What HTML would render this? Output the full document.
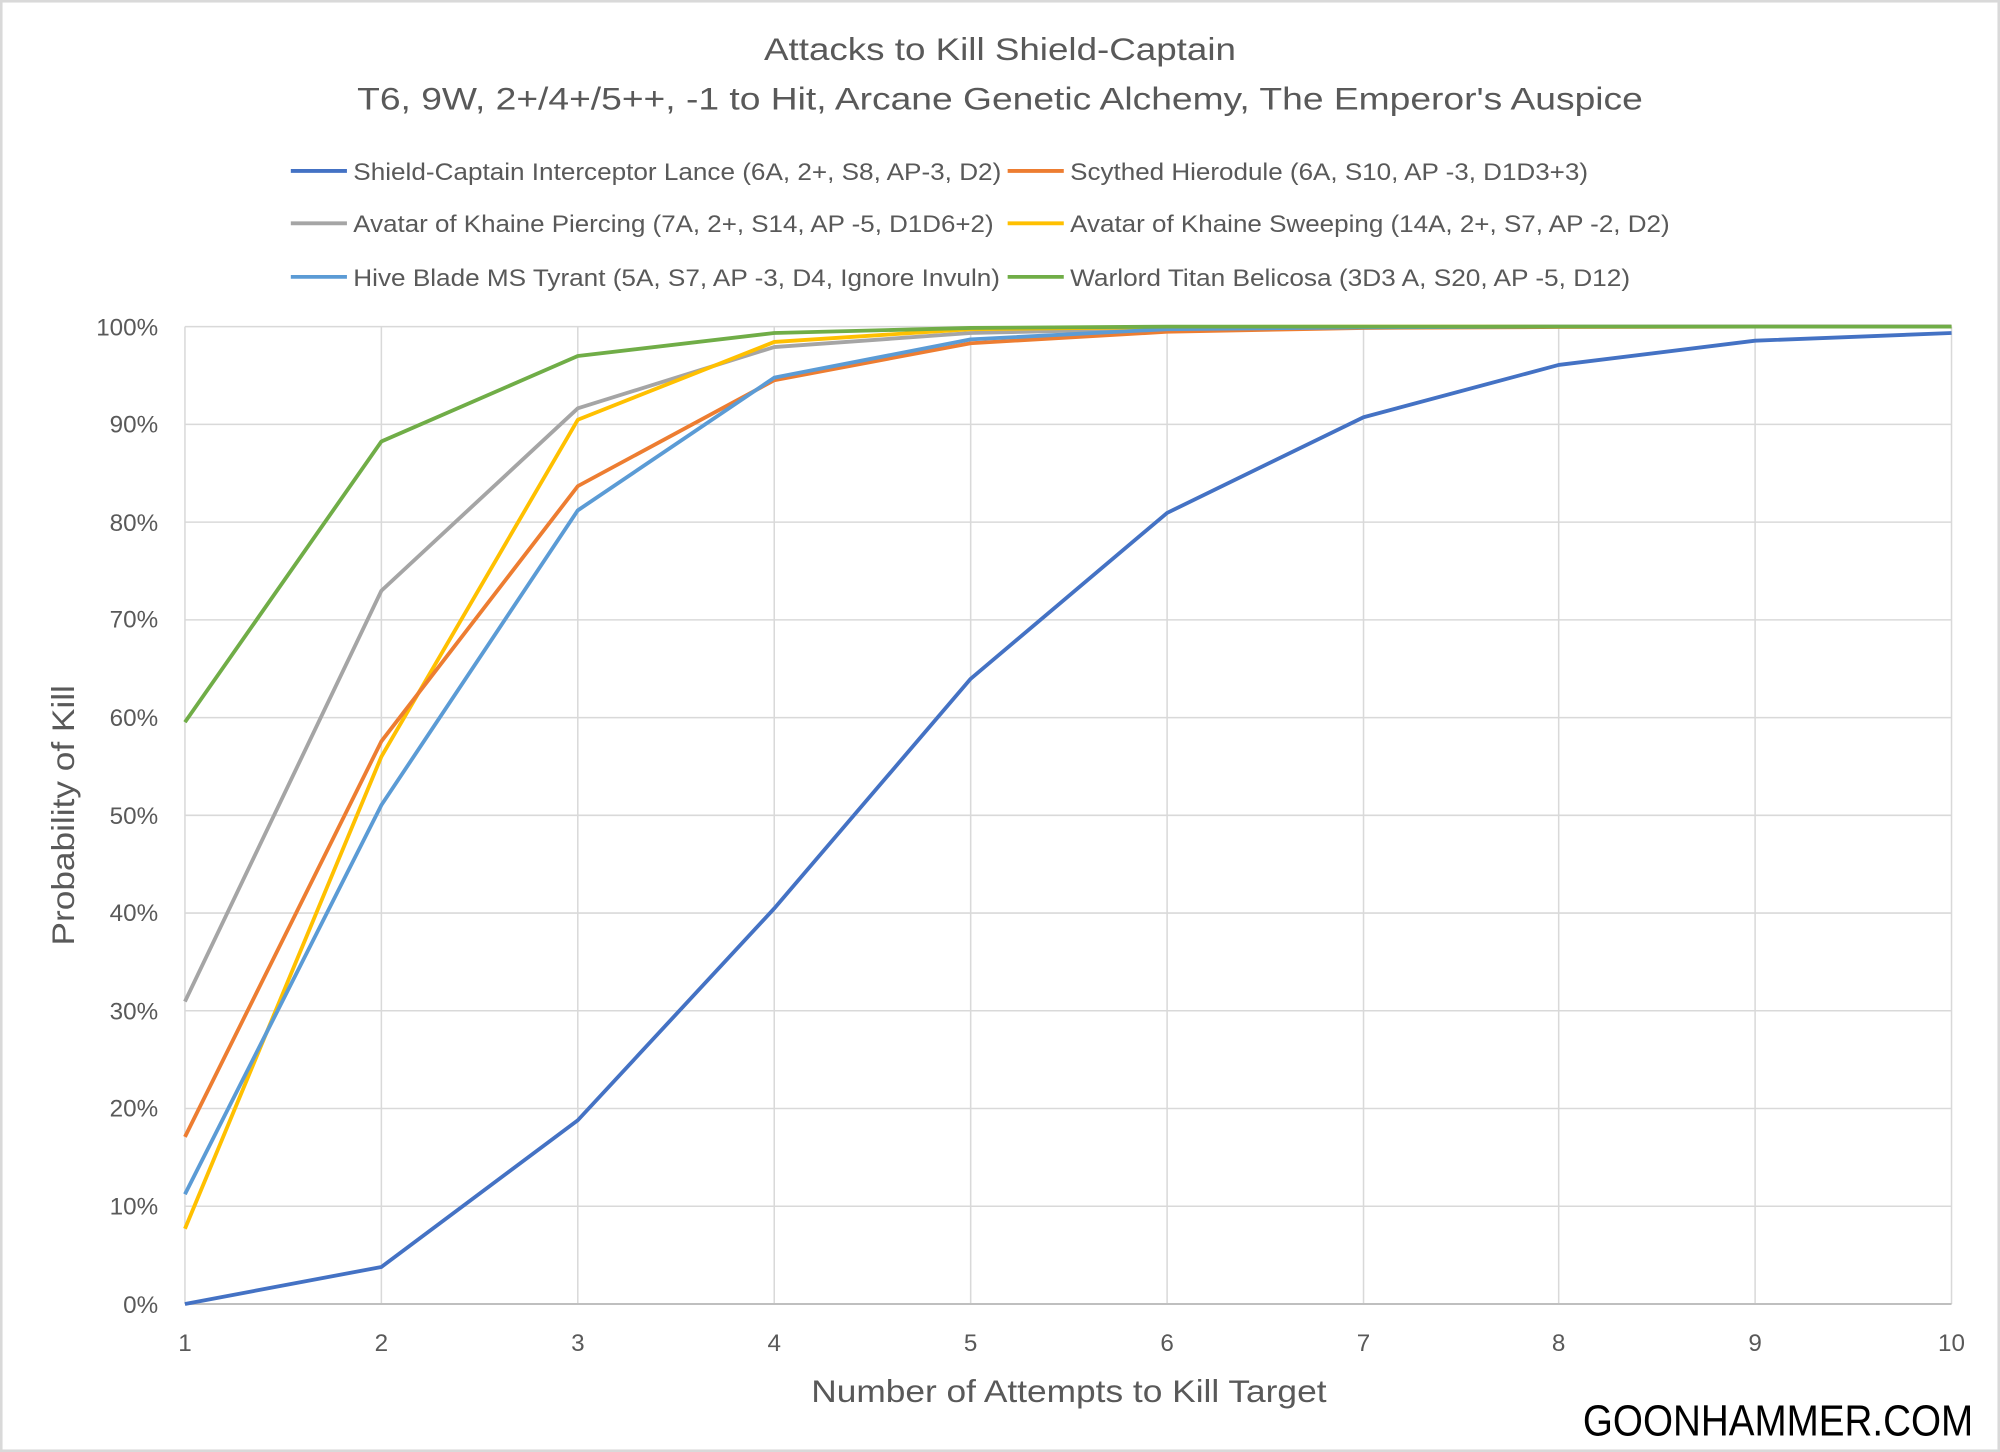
<!DOCTYPE html>
<html><head><meta charset="utf-8"><style>
html,body{margin:0;padding:0;background:#fff;}
svg{display:block;}
text{font-family:"Liberation Sans",sans-serif;fill:#595959;}
</style></head><body>
<svg width="2000" height="1452" viewBox="0 0 1568 1138" preserveAspectRatio="none" xmlns="http://www.w3.org/2000/svg">
<rect x="0" y="0" width="1568" height="1138" fill="#fff"/>
<rect x="1" y="1" width="1566" height="1136" fill="none" stroke="#d9d9d9" stroke-width="2"/>
<text x="784" y="47" font-size="25" text-anchor="middle" textLength="370" lengthAdjust="spacingAndGlyphs">Attacks to Kill Shield-Captain</text>
<text x="784" y="86" font-size="25" text-anchor="middle" textLength="1008" lengthAdjust="spacingAndGlyphs">T6, 9W, 2+/4+/5++, -1 to Hit, Arcane Genetic Alchemy, The Emperor's Auspice</text>
<g stroke-width="3">
<line x1="228" y1="134" x2="272" y2="134" stroke="#4472c4"/>
<line x1="790" y1="134" x2="834" y2="134" stroke="#ed7d31"/>
<line x1="228" y1="175" x2="272" y2="175" stroke="#a5a5a5"/>
<line x1="790" y1="175" x2="834" y2="175" stroke="#ffc000"/>
<line x1="228" y1="217" x2="272" y2="217" stroke="#5b9bd5"/>
<line x1="790" y1="217" x2="834" y2="217" stroke="#70ad47"/>
</g>
<g font-size="19">
<text x="277" y="141" textLength="508" lengthAdjust="spacingAndGlyphs">Shield-Captain Interceptor Lance (6A, 2+, S8, AP-3, D2)</text>
<text x="839" y="141" textLength="406" lengthAdjust="spacingAndGlyphs">Scythed Hierodule (6A, S10, AP -3, D1D3+3)</text>
<text x="277" y="182" textLength="502" lengthAdjust="spacingAndGlyphs">Avatar of Khaine Piercing (7A, 2+, S14, AP -5, D1D6+2)</text>
<text x="839" y="182" textLength="470" lengthAdjust="spacingAndGlyphs">Avatar of Khaine Sweeping (14A, 2+, S7, AP -2, D2)</text>
<text x="277" y="224" textLength="507" lengthAdjust="spacingAndGlyphs">Hive Blade MS Tyrant (5A, S7, AP -3, D4, Ignore Invuln)</text>
<text x="839" y="224" textLength="439" lengthAdjust="spacingAndGlyphs">Warlord Titan Belicosa (3D3 A, S20, AP -5, D12)</text>
</g>
<g stroke="#d9d9d9" stroke-width="1.2">
<line x1="145" x2="1530" y1="256" y2="256"/><line x1="145" x2="1530" y1="332.6" y2="332.6"/>
<line x1="145" x2="1530" y1="409.2" y2="409.2"/><line x1="145" x2="1530" y1="485.8" y2="485.8"/>
<line x1="145" x2="1530" y1="562.4" y2="562.4"/><line x1="145" x2="1530" y1="639" y2="639"/>
<line x1="145" x2="1530" y1="715.6" y2="715.6"/><line x1="145" x2="1530" y1="792.2" y2="792.2"/>
<line x1="145" x2="1530" y1="868.8" y2="868.8"/><line x1="145" x2="1530" y1="945.4" y2="945.4"/>
<line x1="145" x2="145" y1="256" y2="1022"/><line x1="299" x2="299" y1="256" y2="1022"/>
<line x1="453" x2="453" y1="256" y2="1022"/><line x1="607" x2="607" y1="256" y2="1022"/>
<line x1="761" x2="761" y1="256" y2="1022"/><line x1="915" x2="915" y1="256" y2="1022"/>
<line x1="1069" x2="1069" y1="256" y2="1022"/><line x1="1222" x2="1222" y1="256" y2="1022"/>
<line x1="1376" x2="1376" y1="256" y2="1022"/><line x1="1530" x2="1530" y1="256" y2="1022"/>
</g>
<line x1="145" x2="1530" y1="1022" y2="1022" stroke="#bfbfbf" stroke-width="1.5"/>
<g font-size="19" text-anchor="end">
<text x="124" y="263">100%</text><text x="124" y="339">90%</text><text x="124" y="416">80%</text>
<text x="124" y="492">70%</text><text x="124" y="569">60%</text><text x="124" y="646">50%</text>
<text x="124" y="722">40%</text><text x="124" y="799">30%</text><text x="124" y="875">20%</text>
<text x="124" y="952">10%</text><text x="124" y="1029">0%</text>
</g>
<g font-size="19" text-anchor="middle">
<text x="145" y="1059">1</text><text x="299" y="1059">2</text><text x="453" y="1059">3</text>
<text x="607" y="1059">4</text><text x="761" y="1059">5</text><text x="915" y="1059">6</text>
<text x="1069" y="1059">7</text><text x="1222" y="1059">8</text><text x="1376" y="1059">9</text>
<text x="1530" y="1059">10</text>
</g>
<text x="838" y="1099" font-size="25" text-anchor="middle" textLength="404" lengthAdjust="spacingAndGlyphs">Number of Attempts to Kill Target</text>
<text transform="translate(58,639) rotate(-90)" font-size="25" text-anchor="middle" textLength="204" lengthAdjust="spacingAndGlyphs">Probability of Kill</text>
<text x="1547" y="1125" font-size="34" text-anchor="end" style="fill:#000" textLength="306" lengthAdjust="spacingAndGlyphs">GOONHAMMER.COM</text>
<g fill="none" stroke-width="3" stroke-linejoin="round">
<polyline stroke="#a5a5a5" points="145,785 299,463 453,320 607,272 761,261 915,257.5 1069,256.3 1222,256 1376,256 1530,256"/>
<polyline stroke="#ffc000" points="145,963 299,593 453,329 607,268 761,258 915,256.3 1069,256 1222,256 1376,256 1530,256"/>
<polyline stroke="#ed7d31" points="145,891 299,581 453,381 607,298 761,269 915,260 1069,257 1222,256.3 1376,256 1530,256"/>
<polyline stroke="#5b9bd5" points="145,936 299,631 453,400 607,296 761,266 915,258 1069,256.5 1222,256 1376,256 1530,256"/>
<polyline stroke="#70ad47" points="145,566 299,346 453,279 607,261 761,257 915,256 1069,256 1222,256 1376,256 1530,256"/>
<polyline stroke="#4472c4" points="145,1022 299,993 453,878 607,712 761,532 915,402 1069,327 1222,286 1376,267 1530,261"/>
</g>
</svg>
</body></html>
